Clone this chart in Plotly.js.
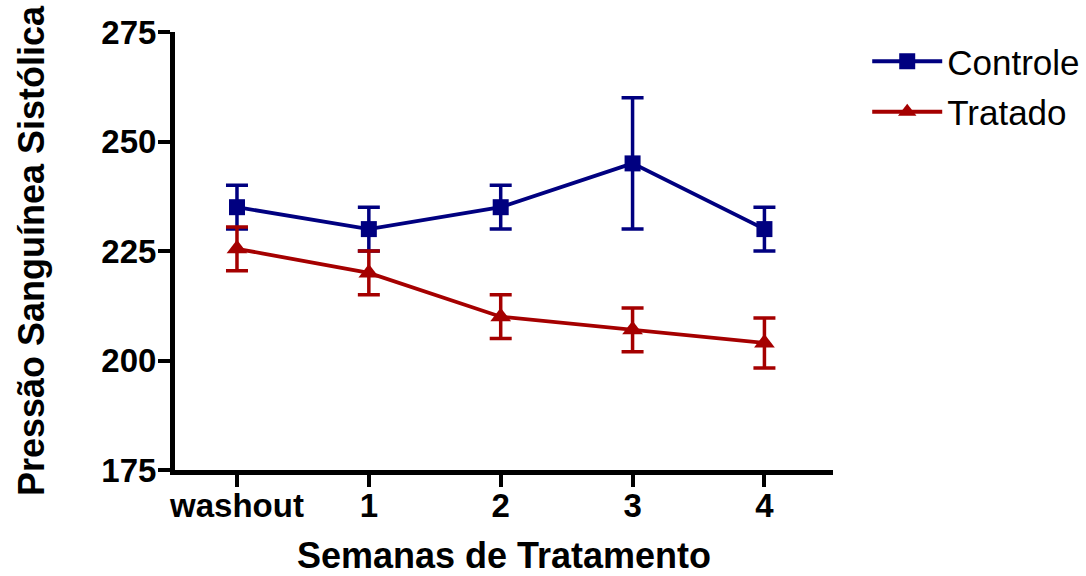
<!DOCTYPE html>
<html>
<head>
<meta charset="utf-8">
<script src="https://cdn.plot.ly/plotly-3.0.1.min.js"></script>
<style>html,body{margin:0;padding:0;background:#fff;}#chart{width:1086px;height:576px;}</style>
</head>
<body>
<div id="chart"></div>
<script>
const categories = ["washout", "1", "2", "3", "4"];
const controleMean = [235, 230, 235, 245, 230];
const controleErr = [5, 5, 5, 15, 5];
const tratadoMean = [225.5, 220, 210, 207, 204];
const tratadoErr = [5, 5, 5, 5, 5.7];
const yTicks = [175, 200, 225, 250, 275];

const FONT = '"Liberation Sans", Arial, Helvetica, sans-serif';
const blue = '#000080';
const red = '#A50000';
const xIdx = categories.map((c, i) => i);

const traces = [
  {
    name: 'Controle', legendgroup: 'c', x: xIdx, y: controleMean, type: 'scatter', mode: 'lines+markers',
    line: {color: blue, width: 3.8},
    marker: {symbol: 'square', size: 16, color: blue},
    error_y: {type: 'data', array: controleErr, visible: true, color: blue, thickness: 3.5, width: 11}
  },
  {
    name: 'Tratado', legendgroup: 't', x: xIdx, y: tratadoMean, type: 'scatter', mode: 'lines+markers',
    line: {color: red, width: 3.8},
    marker: {symbol: 'triangle-up', size: 18, color: red},
    error_y: {type: 'data', array: tratadoErr, visible: true, color: red, thickness: 3.5, width: 11}
  }
];

const layout = {
  width: 1086, height: 576,
  margin: {l: 175, r: 253, t: 32, b: 105.5, autoexpand: false},
  paper_bgcolor: '#fff', plot_bgcolor: '#fff',
  font: {family: FONT, color: '#000'},
  showlegend: true,
  legend: {
    x: 1.052, y: 1.0, xanchor: 'left', yanchor: 'top',
    font: {family: FONT, size: 35, color: '#000'},
    bgcolor: 'rgba(0,0,0,0)', itemwidth: 70, tracegroupgap: 2
  },
  xaxis: {
    range: [-0.47, 4.52],
    tickmode: 'array', tickvals: xIdx, ticktext: categories,
    showline: true, linecolor: '#000', linewidth: 5,
    ticks: 'outside', ticklen: 12, tickwidth: 4, tickcolor: '#000',
    showgrid: false, zeroline: false, ticklabelstandoff: -10,
    tickfont: {family: FONT, size: 33, weight: 700, color: '#000'},
    title: {text: 'Semanas de Tratamento', font: {family: FONT, size: 36, weight: 700, color: '#000'}, standoff: 22}
  },
  yaxis: {
    range: [175, 275],
    tickmode: 'array', tickvals: yTicks,
    showline: true, linecolor: '#000', linewidth: 5,
    ticks: 'outside', ticklen: 12, tickwidth: 4, tickcolor: '#000',
    showgrid: false, zeroline: false, ticklabelstandoff: -5,
    tickfont: {family: FONT, size: 33, weight: 700, color: '#000'},
    title: {text: 'Pressão Sanguínea Sistólica', font: {family: FONT, size: 36, weight: 700, color: '#000'}, standoff: 47}
  }
};

Plotly.newPlot('chart', traces, layout, {displayModeBar: false, staticPlot: true});
</script>
</body>
</html>
